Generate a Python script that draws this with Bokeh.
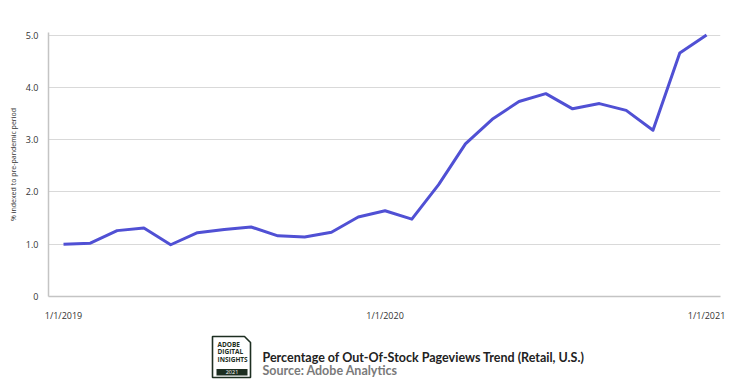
from bokeh.plotting import figure
from bokeh.models import Range1d, FixedTicker, ColumnDataSource
from bokeh.layouts import column
from bokeh.embed import file_html
from bokeh.resources import INLINE
from bokeh.core.properties import value

# ---- data ----
months = ["2019-01", "2019-02", "2019-03", "2019-04", "2019-05", "2019-06",
          "2019-07", "2019-08", "2019-09", "2019-10", "2019-11", "2019-12",
          "2020-01", "2020-02", "2020-03", "2020-04", "2020-05", "2020-06",
          "2020-07", "2020-08", "2020-09", "2020-10", "2020-11", "2020-12",
          "2021-01"]
oos_index = [1.00, 1.02, 1.26, 1.31, 0.99, 1.22, 1.28, 1.33, 1.16, 1.14, 1.23, 1.52,
             1.64, 1.48, 2.14, 2.92, 3.39, 3.73, 3.88, 3.59, 3.69, 3.56, 3.18, 4.66,
             5.00]
x_tick_months = ["2019-01", "2020-01", "2021-01"]
x_tick_labels = ["1/1/2019", "1/1/2020", "1/1/2021"]
y_ticks = [0, 1, 2, 3, 4, 5]
y_tick_labels = ["0", "1.0", "2.0", "3.0", "4.0", "5.0"]
y_axis_title = "% indexed to pre-pandemic period"
chart_title = "Percentage of Out-Of-Stock Pageviews Trend (Retail, U.S.)"
chart_source = "Source: Adobe Analytics"
logo_lines = ["ADOBE", "DIGITAL", "INSIGHTS"]
logo_year = "2021"

FONT = "Open Sans"
LINE_COLOR = "#5050D4"
W = 740
BL, BR = 48, 20

xi = list(range(len(months)))
src = ColumnDataSource(dict(x=xi, y=oos_index, m=months))

p = figure(width=W, height=324, output_backend="svg", toolbar_location=None,
           x_range=Range1d(-0.56, len(months) - 1 + 0.52), y_range=Range1d(0, 5.05),
           min_border_left=BL, min_border_right=BR, min_border_top=32, min_border_bottom=26)
p.outline_line_color = None
p.background_fill_color = "white"
p.border_fill_color = "white"

p.line("x", "y", source=src, line_color=LINE_COLOR, line_width=3, line_join="round")

# x axis
xa = p.xaxis[0]
tick_pos = [months.index(m) for m in x_tick_months]
xa.ticker = FixedTicker(ticks=tick_pos)
xa.major_label_overrides = {t: l for t, l in zip(tick_pos, x_tick_labels)}
xa.major_tick_out = 0
xa.major_tick_in = 0
xa.minor_tick_out = 0
xa.minor_tick_in = 0
xa.axis_line_color = "#c4c4c4"
xa.axis_line_width = 1.5
xa.major_label_standoff = 12
xa.major_label_text_font = FONT
xa.major_label_text_font_size = "9px"
xa.major_label_text_color = "#333333"

# y axis
ya = p.yaxis[0]
ya.ticker = FixedTicker(ticks=y_ticks)
ya.major_label_overrides = {t: l for t, l in zip(y_ticks, y_tick_labels)}
ya.major_tick_out = 0
ya.major_tick_in = 0
ya.minor_tick_out = 0
ya.minor_tick_in = 0
ya.axis_line_color = "#c4c4c4"
ya.axis_line_width = 1.5
ya.major_label_standoff = 10
ya.major_label_text_font = FONT
ya.major_label_text_font_size = "9px"
ya.major_label_text_color = "#333333"
ya.axis_label = y_axis_title
ya.axis_label_text_font = FONT
ya.axis_label_text_font_size = "7px"
ya.axis_label_text_font_style = "normal"
ya.axis_label_text_color = "#333333"
ya.axis_label_standoff = 5

p.xgrid.visible = False
p.ygrid.ticker = FixedTicker(ticks=y_ticks)
p.ygrid.grid_line_color = "#d9d9d9"
p.ygrid.grid_line_width = 1.2

# ---- footer (logo + title) ----
# frame spans page x BL..W-BR so that data x equals page x (column aligns frames)
FH = 63
f = figure(width=W, height=FH, output_backend="svg", toolbar_location=None,
           x_range=Range1d(BL, W - BR), y_range=Range1d(FH, 0),
           min_border_left=BL, min_border_right=BR, min_border_top=0, min_border_bottom=0,
           x_axis_type=None, y_axis_type=None)
f.outline_line_color = None
f.xgrid.visible = False
f.ygrid.visible = False
f.border_fill_color = "white"
f.background_fill_color = "white"

LOGO_C = "#1d2e21"
f.patch([212, 244, 250, 250, 212], [12, 12, 18, 53, 53], fill_color="white",
        line_color=LOGO_C, line_width=1.6)
f.quad(left=[216], right=[247], top=[44.5], bottom=[51], fill_color=LOGO_C, line_color=None)
f.text(x=[217] * 3, y=[19.5, 27, 34.5], text=logo_lines, text_font=value(FONT),
       text_font_size="6.5px", text_font_style="bold", text_color=LOGO_C,
       text_baseline="middle", text_align="left")
f.text(x=[231.5], y=[47.9], text=[logo_year], text_font=value(FONT),
       text_font_size="5.5px", text_color="white",
       text_baseline="middle", text_align="center")
f.text(x=[262], y=[32.7], text=[chart_title], text_font=value("Lato"),
       text_font_size="12.5px", text_font_style="bold", text_color="#222222",
       text_baseline="middle", text_align="left")
f.text(x=[262], y=[45.8], text=[chart_source], text_font=value("Lato"),
       text_font_size="12.5px", text_font_style="bold", text_color="#7a7a7a",
       text_baseline="middle", text_align="left")

layout = column(p, f, spacing=0)
open("out.html", "w").write(file_html(layout, INLINE))
